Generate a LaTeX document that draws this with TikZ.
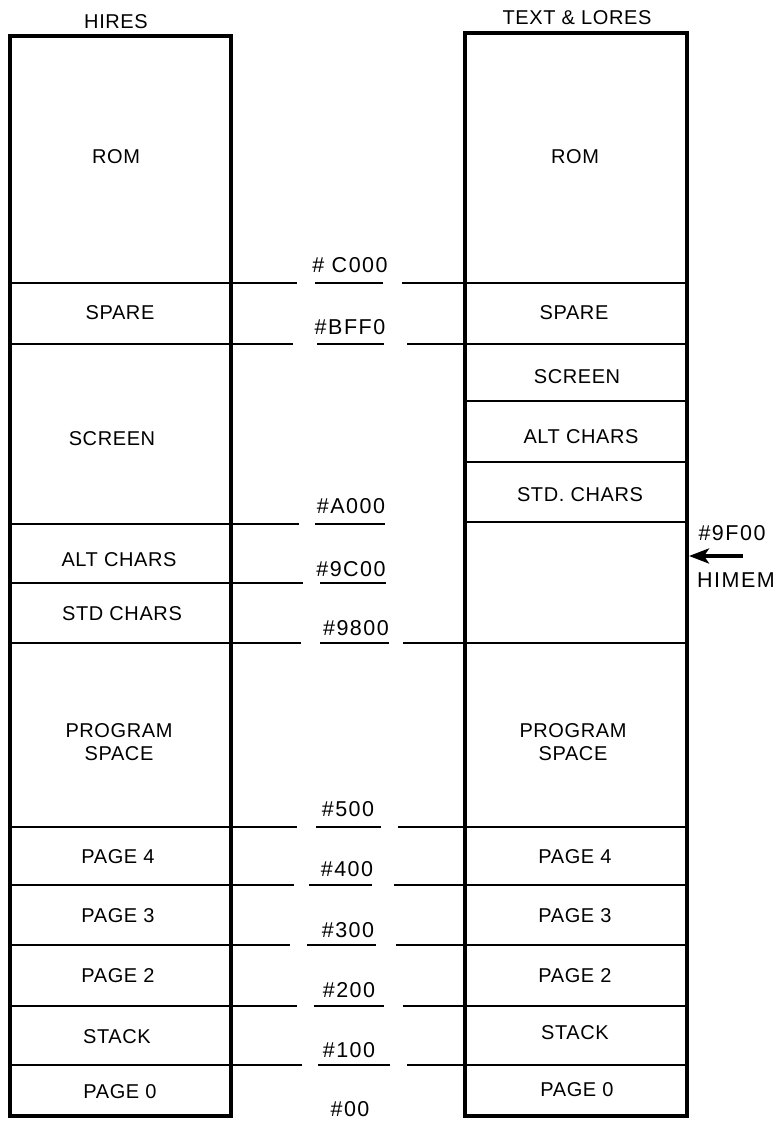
\documentclass[tikz,border=0pt]{standalone}
\usepackage{fontspec}
\setmainfont{Liberation Sans}[LetterSpace=3]
\newfontfamily\addrfont{Liberation Sans}[LetterSpace=7]
\usetikzlibrary{arrows.meta}
\begin{document}
\begin{tikzpicture}[x=1pt,y=-1pt,
  colbox/.style={line width=3.4pt,line join=miter},
  divline/.style={line width=2.8pt},
  lab/.style={font=\fontsize{20}{23}\selectfont,align=center,inner sep=0pt},
  addr/.style={font=\addrfont\fontsize{21.5}{24}\selectfont,inner sep=0pt},
  himarrow/.style={line width=4pt,-{Stealth[length=20pt,width=15pt,inset=5pt]}}]
\useasboundingbox (0,0) rectangle (778,1123);
% columns
\coordinate (Ltl) at (10,36);   \coordinate (Lbr) at (231,1116);
\coordinate (Rtl) at (465,33);  \coordinate (Rbr) at (687,1116);
\draw[colbox] (Ltl) rectangle (Lbr);
\draw[colbox] (Rtl) rectangle (Rbr);
% column titles
\node[lab] (thires) at (116,22) {HIRES};
\node[lab] (ttext) at (577,18) {TEXT \& LORES};
% boundary lines: y, left end, middle start, middle end, right start (0 = none)
\foreach \yy/\le/\ms/\me/\rs in {283/297/315/383/402, 344/293/317/384/407,
  524/299/315/385/0, 583/303/320/386/0, 643/301/320/389/403,
  827/297/316/381/398, 885/294/309/372/394, 945/290/307/376/396,
  1006/297/314/384/403, 1065/302/318/390/407}{
  \draw[divline] (10,\yy) -- (\le,\yy);
  \draw[divline] (\ms,\yy) -- (\me,\yy);
  \ifnum\rs>0 \draw[divline] (\rs,\yy) -- (687,\yy); \fi
}
% right-only lines
\foreach \yy in {401,462,522}{ \draw[divline] (465,\yy) -- (687,\yy); }
% left labels
\node[lab] (lrom) at (116,157) {ROM};
\node[lab] (lspare) at (120,313) {SPARE};
\node[lab] (lscreen) at (112,439) {SCREEN};
\node[lab] (lalt) at (119,560) {ALT CHARS};
\node[lab] (lstd) at (122,614) {STD CHARS};
\node[lab] (lprog) at (119,742) {PROGRAM\\SPACE};
\node[lab] (lp4) at (118,857) {PAGE 4};
\node[lab] (lp3) at (118,916) {PAGE 3};
\node[lab] (lp2) at (118,976) {PAGE 2};
\node[lab] (lstack) at (117,1037) {STACK};
\node[lab] (lp0) at (120,1092) {PAGE 0};
% right labels
\node[lab] (rrom) at (575,157) {ROM};
\node[lab] (rspare) at (574,313) {SPARE};
\node[lab] (rscreen) at (577,377) {SCREEN};
\node[lab] (ralt) at (581,437) {ALT CHARS};
\node[lab] (rstd) at (580,495) {STD. CHARS};
\node[lab] (rprog) at (573,742) {PROGRAM\\SPACE};
\node[lab] (rp4) at (575,857) {PAGE 4};
\node[lab] (rp3) at (575,916) {PAGE 3};
\node[lab] (rp2) at (575,976) {PAGE 2};
\node[lab] (rstack) at (575,1033) {STACK};
\node[lab] (rp0) at (577,1090) {PAGE 0};
% addresses
\node[addr] (aC000) at (350,265) {\# C000};
\node[addr] (aBFF0) at (350,327) {\#BFF0};
\node[addr] (aA000) at (351,506) {\#A000};
\node[addr] (a9C00) at (351,569) {\#9C00};
\node[addr] (a9800) at (356,628) {\#9800};
\node[addr] (a500) at (348,809) {\#500};
\node[addr] (a400) at (347,869) {\#400};
\node[addr] (a300) at (348,930) {\#300};
\node[addr] (a200) at (349,990) {\#200};
\node[addr] (a100) at (349,1050) {\#100};
\node[addr] (a00) at (350,1109) {\#00};
% HIMEM
\node[addr] (a9F00) at (732,533) {\#9F00};
\node[addr] (himem) at (736,580) {HIMEM};
\coordinate (hstart) at (743,556);
\coordinate (hend) at (689,556);
\draw[himarrow] (hstart) -- (hend);
\end{tikzpicture}
\end{document}
